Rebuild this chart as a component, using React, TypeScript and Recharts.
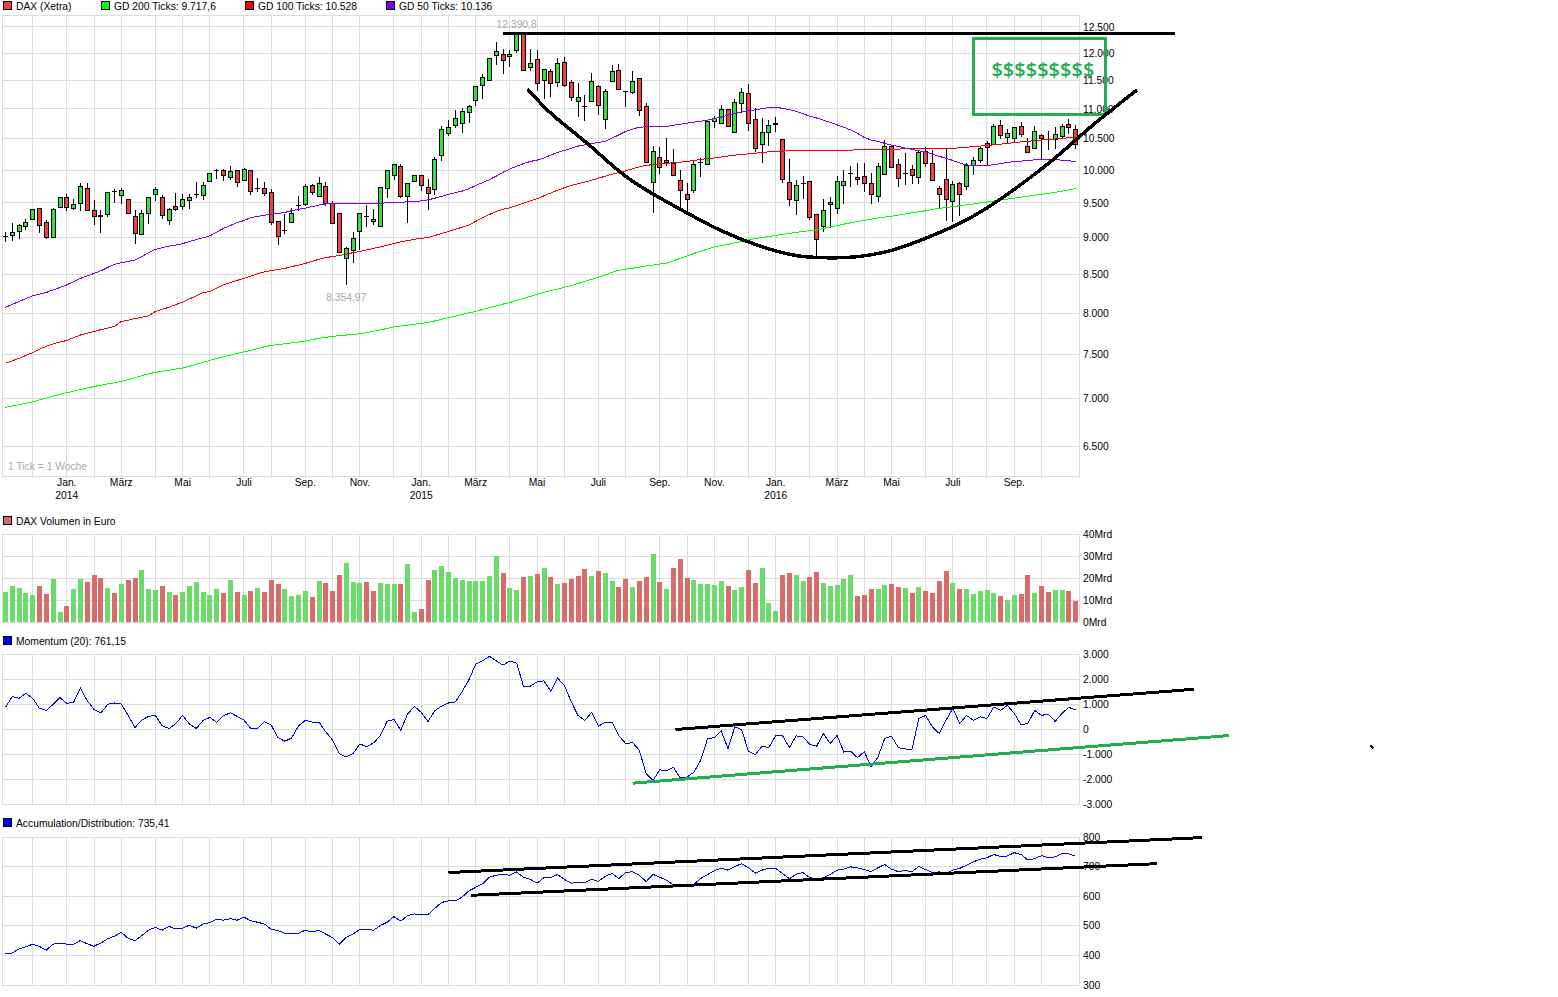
import React from "react";
import {
  ComposedChart, LineChart, Line, Bar, XAxis, YAxis, CartesianGrid,
  ReferenceArea, ReferenceDot,
} from "recharts";

// ---------- weekly DAX candles ----------
const opens = [9011,9033,9090,9163,9264,9423,9220,9000,9437,9586,9423,9495,9721,9394,9310,9336,9668,9614,9553,9307,9047,9351,9630,9586,9249,9452,9452,9540,9625,9614,9828,9993,9995,9888,9995,9843,9995,9714,9716,9660,9235,9098,9220,9459,9481,9767,9599,9752,9495,9351,8713,8818,9085,9300,9230,9163,9721,9919,10058,9599,9828,9919,9736,9706,10234,10592,10720,10760,10944,11149,11412,11500,11957,11982,11933,12056,12379,11736,11890,11500,11669,11465,11834,11465,11131,11042,11131,11395,10827,11482,11687,11305,11289,11537,11044,9812,10202,10154,10106,9843,9630,9691,10120,10090,10793,10760,10994,10609,11096,11272,10827,10410,10606,10746,10489,9812,9540,9795,9828,9336,9163,9481,9423,9767,9947,9888,9904,9797,9599,9934,10378,10090,9947,10011,9888,10298,10106,9721,9858,9523,9797,9752,10074,10154,10426,10410,10726,10525,10508,10709,10378,10346,10558,10487,10489,10541,10743,10659];
const highs = [9076,9206,9196,9269,9413,9428,9254,9423,9591,9626,9558,9807,9807,9543,9389,9670,9711,9721,9563,9399,9389,9591,9736,9616,9423,9647,9626,9626,9812,9812,9954,10021,10021,10064,10000,10027,10000,9873,9817,9706,9240,9341,9423,9599,9782,9782,9888,9812,9525,9356,8873,9076,9351,9471,9408,9745,9990,10096,10096,9802,9924,9924,9858,10202,10704,10804,10983,11012,11067,11400,11620,11914,12207,12070,12061,12390.8,12390,12083,12061,11712,11706,11908,11926,11506,11447,11243,11632,11412,11342,11779,11804,11320,11669,11543,11096,10388,10362,10510,10330,10000,9797,10154,10186,10804,10877,11059,11000,11167,11360,11430,11012,10843,10816,10860,10495,10170,9843,9904,9833,9341,9556,9586,9904,9995,10058,10106,10106,9949,10106,10473,10394,10170,10261,10074,10314,10362,10314,9752,10346,9828,9812,10106,10202,10378,10457,10743,10810,10659,10698,10776,10508,10709,10575,10620,10693,10743,10827,10726];
const lows = [8941,8955,8982,9110,9259,9071,8986,8995,9433,9375,9399,9375,9375,9172,9071,9288,9500,9486,9346,8914,9042,9187,9535,9259,9172,9375,9399,9404,9576,9540,9823,9868,9823,9853,9746,9823,9614,9660,9599,9182,8900,9047,9206,9379,9447,9619,9584,9447,9201,8790,8354.97,8645,8827,9143,9172,9160,9570,9843,9579,9213,9823,9685,9389,9620,10149,10547,10676,10592,10760,11050,11178,11494,11773,11608,11736,12012,11663,11663,11319,11167,11213,11377,11377,11143,10855,10788,11125,10888,10654,11477,11336,11041,11254,10883,10117,9351,9934,10069,9914,9399,9365,9645,9888,10074,10676,10743,10704,10603,10927,10626,10293,10106,10388,10606,9807,9457,9317,9553,9249,8700,9085,9129,9331,9490,9746,9762,9670,9481,9518,9919,10037,9736,9767,9782,9782,10043,9823,9423,9230,9216,9302,9690,9919,10106,10074,10405,10489,10426,10426,10525,10266,10330,10170,10314,10340,10489,10575,10330];
const closes = [9015,9076,9177,9220,9408,9177,9000,9408,9586,9437,9481,9752,9389,9307,9314,9660,9672,9690,9351,9061,9351,9586,9706,9322,9408,9408,9553,9586,9629,9767,9949,9997,9919,9980,9812,10011,9675,9718,9645,9220,9014,9102,9351,9463,9752,9660,9797,9495,9206,8795,8850,8986,9341,9304,9264,9738,9985,10090,9594,9797,9919,9767,9645,10170,10659,10693,10843,10961,11044,11395,11559,11908,12036,11871,11969,12379,11687,11816,11447,11706,11447,11816,11412,11202,11202,11046,11482,11061,11307,11669,11342,11309,11482,10978,10122,10298,10043,10122,9919,9691,9553,10090,10124,10793,10843,10994,10709,11114,11289,10760,10346,10606,10726,10750,9858,9553,9767,9799,9293,8973,9394,9510,9828,9828,9951,9858,9797,9630,10058,10378,10043,9873,9951,9919,10282,10106,9843,9630,9553,9782,9630,10074,10154,10346,10362,10709,10547,10592,10693,10575,10282,10620,10508,10491,10575,10709,10693,10410];

// ---------- moving averages ----------
const gd50 = [8072,8108,8145,8182,8218,8240,8261,8292,8326,8359,8402,8444,8478,8509,8545,8590,8632,8652,8672,8691,8735,8790,8836,8858,8880,8895,8915,8945,8972,8998,9024,9075,9130,9170,9215,9241,9285,9300,9320,9330,9345,9360,9385,9405,9423,9445,9468,9484,9490,9490,9490,9490,9490,9490,9492,9496,9500,9505,9510,9515,9520,9530,9545,9570,9598,9628,9652,9675,9715,9760,9805,9850,9905,9965,10015,10060,10100,10135,10155,10190,10235,10280,10310,10345,10380,10400,10418,10440,10455,10510,10565,10620,10660,10690,10698,10700,10702,10705,10722,10740,10758,10775,10792,10810,10835,10860,10895,10925,10950,10970,10985,11005,11025,11030,11010,10990,10960,10920,10875,10845,10810,10770,10730,10690,10645,10590,10520,10480,10455,10425,10395,10375,10350,10325,10305,10285,10250,10215,10185,10150,10110,10080,10072,10068,10070,10085,10100,10120,10130,10140,10150,10160,10170,10172,10165,10155,10145,10136];
const gd100 = [7398,7425,7455,7488,7520,7561,7595,7625,7645,7665,7698,7730,7752,7774,7795,7815,7835,7895,7912,7930,7948,7964,8020,8048,8072,8105,8138,8178,8218,8258,8273,8315,8359,8388,8418,8444,8475,8505,8532,8548,8562,8577,8600,8622,8645,8672,8700,8722,8738,8752,8770,8790,8808,8828,8850,8868,8892,8918,8941,8958,8975,8990,9000,9028,9058,9085,9118,9145,9178,9230,9285,9330,9372,9405,9428,9462,9495,9528,9562,9605,9648,9690,9728,9760,9790,9812,9842,9872,9905,9935,9960,9988,10020,10050,10072,10085,10095,10105,10115,10122,10135,10150,10165,10180,10190,10205,10220,10235,10245,10255,10266,10278,10288,10295,10300,10303,10303,10303,10303,10303,10304,10304,10305,10310,10315,10320,10325,10328,10330,10331,10332,10333,10334,10334,10335,10335,10335,10335,10336,10345,10352,10362,10372,10380,10390,10400,10412,10425,10435,10448,10458,10468,10478,10488,10496,10505,10516,10528];
const gd200 = [6905,6920,6935,6950,6965,6985,7005,7028,7048,7066,7082,7100,7118,7134,7148,7162,7176,7191,7208,7232,7255,7275,7293,7305,7318,7330,7342,7362,7385,7408,7430,7452,7472,7492,7512,7530,7548,7568,7590,7605,7615,7625,7636,7645,7660,7675,7690,7702,7714,7722,7730,7738,7746,7760,7775,7792,7810,7830,7840,7850,7862,7872,7883,7902,7922,7942,7962,7982,8002,8022,8045,8068,8090,8112,8132,8160,8185,8210,8236,8262,8285,8305,8328,8352,8378,8405,8432,8460,8490,8525,8552,8565,8580,8595,8610,8622,8635,8648,8680,8712,8745,8778,8810,8840,8870,8888,8905,8925,8945,8965,8986,9000,9015,9030,9045,9058,9072,9085,9098,9108,9128,9150,9170,9190,9210,9228,9245,9262,9278,9292,9304,9320,9338,9355,9370,9385,9402,9420,9432,9445,9458,9472,9485,9500,9514,9528,9542,9556,9570,9585,9600,9615,9628,9642,9658,9675,9695,9718];

// ---------- volume (Mrd Euro) ----------
const volume = [13.6,16.4,15.5,13.1,12.2,16.3,12.7,19.5,4.4,7.2,15.1,19.5,18.2,21.4,20,15.5,13.1,17.3,19.1,20,23.7,15.1,14.5,16.3,13.6,12.2,13.6,16.3,18.2,13.6,12.2,15,13.1,19.1,13.6,12.2,14,15.4,13.6,19.1,17.3,15,11.8,12.2,14,11.3,18.6,17.7,14,21.4,26.9,18.2,17.7,18.2,14,17.7,17.3,17.3,17.3,26.4,4.4,5.8,19.1,23.7,25.5,22.7,20,19.1,18.6,18.6,18.6,20.9,30.1,22.3,15.4,14.5,20.5,20.9,21.8,24.7,20.5,17.3,17.7,19.5,20.9,24.1,20.9,23.2,22.3,18.6,15.9,19.5,15.9,18.6,20.5,31,18.2,15.1,24.6,28.7,20,19.1,17.3,17.3,16.8,18.6,16.3,14.5,15.9,23.7,17.7,24.6,8.5,4.9,21.4,22.3,21.4,18.6,20.5,22.7,17.7,16.3,16.8,19.5,21.4,11.8,12.2,15.1,15.1,16.8,17.3,15.9,15.4,13.1,15.9,14,13.1,18.6,23.2,17.7,15.1,15.1,12.7,14,14.5,13.1,11.8,10.2,12.2,12.7,21.4,13.1,16.3,13.6,14.5,14.5,14,9.4];
const volumeDirection = "GGGGGRRGGRGGRRRGRGRRGGGRGRGGGGGGRGRGRGRRRGGGGRGRRRGGGRRGGGRGGRRGGGGGGGGGGRGGRGRGRGRRRRGRGGRRGRRGRGRRRGGGGGRGGRRGGGRRGGRRGGGGGRRRGGRRGRGRRRRGRGGGGGRGGRRGRRGGRR";

// ---------- indicators ----------
const momentum = [866,1295,1228,1429,1228,825,745,986,1255,1027,1067,1631,1134,785,637,986,1040,1000,544,60,356,503,544,127,20,221,544,195,20,342,463,262,530,651,503,356,20,20,289,154,-342,-490,-356,127,342,275,275,-114,-450,-986,-1121,-986,-597,-705,-557,-275,315,382,-47,597,906,664,302,731,919,1040,1080,1496,1966,2597,2731,2905,2731,2556,2718,2637,1711,1711,1885,1926,1510,2033,1751,1094,544,342,664,114,262,262,-275,-584,-544,-852,-1792,-2060,-1631,-1671,-1537,-1953,-1926,-1725,-1255,-396,-342,-74,-785,87,-20,-892,-1027,-691,-745,-262,-262,-745,-275,-315,-610,-691,-181,-584,-262,-919,-892,-1147,-906,-1523,-1121,-382,-289,-745,-798,-812,409,544,87,-181,356,825,221,544,342,490,423,879,745,946,624,168,221,745,544,597,302,624,866,761.15];
const accumulation = [408,408,422,429,438,430,418,438,442,438,438,450,439,431,442,456,465,478,458,450,467,485,495,485,498,489,492,502,492,506,511,522,519,524,519,529,517,512,506,488,484,475,475,475,485,479,485,472,460,438,461,472,488,488,485,501,512,531,516,534,540,537,538,559,579,584,584,597,618,630,642,664,671,673,671,682,664,657,644,663,663,673,657,644,646,646,657,650,667,677,660,680,683,671,649,674,664,654,637,633,634,640,660,673,686,695,688,700,710,696,678,688,695,694,677,659,674,680,663,658,662,673,688,692,699,696,690,683,696,707,691,683,687,683,700,690,680,682,677,688,694,705,716,725,730,741,734,736,747,741,722,727,737,730,733,744,743,735.41];

// ---------- axes ----------
const monthWeeks = [4,9,13,17,22,26,30,35,39,44,48,52,57,61,65,69,74,78,82,87,91,96,100,104,109,113,118,122,126,130,135,139,144,148,152];
const monthLabels: Record<number, string[]> = {
  9: ["Jan.", "2014"], 17: ["März"], 26: ["Mai"], 35: ["Juli"], 44: ["Sep."], 52: ["Nov."],
  61: ["Jan.", "2015"], 69: ["März"], 78: ["Mai"], 87: ["Juli"], 96: ["Sep."], 104: ["Nov."],
  113: ["Jan.", "2016"], 122: ["März"], 130: ["Mai"], 139: ["Juli"], 148: ["Sep."],
};
const priceTicks = [12500,12000,11500,11000,10500,10000,9500,9000,8500,8000,7500,7000,6500];
const priceDomain: [number, number] = [6204, 12736];
const volumeTicks = [0,10,20,30,40];
const momentumTicks = [-3000,-2000,-1000,0,1000,2000,3000];
const adTicks = [300,400,500,600,700,800];

// ---------- hand-drawn annotations (week, level) ----------
const resistanceLine = [{ x: 73, y: 12379 }, { x: 171.6, y: 12379 }];
const cupWeeks = [76.6,80.3,85.3,90.2,95,100,104.8,110.7,115.6,119.1,124.4,130.2,134.9,139.6,144.5,149.9,154.7,159.6,166];
const cupLevels = [11347,10896,10430,9968,9633,9352,9106,8881,8757,8724,8730,8827,8986,9182,9457,9848,10255,10732,11330];
const momentumUpper = [{ x: 98.3, y: -20 }, { x: 174.4, y: 1590 }];
const momentumLower = [{ x: 92, y: -2167 }, { x: 179.5, y: -262 }];
const strayMark = [{ x: 200.2, y: -651 }, { x: 200.7, y: -772 }];
const adUpper = [{ x: 65, y: 680 }, { x: 175.6, y: 798 }];
const adLower = [{ x: 68.3, y: 603 }, { x: 169, y: 710 }];
const targetBox = { x1: 142, x2: 161.4, y1: 12284, y2: 10905 };
const dollars = "$$$$$$$$$";

const rows = opens.map((open, i) => ({
  i, open, high: highs[i], low: lows[i], close: closes[i],
  gd50: gd50[i], gd100: gd100[i], gd200: gd200[i],
  volume: volume[i], up: volumeDirection[i] === "G",
  momentum: momentum[i], accumulation: accumulation[i],
}));
const cup = cupWeeks.map((x, i) => ({ x, y: cupLevels[i] }));

// ---------- layout ----------
const FONT = '"Liberation Sans", Arial, sans-serif';
const FS = 10.3;
const GRID = "#dcdcdc";
const DRAW_GREEN = "#22ad50";
const PLOT_LEFT = 2;
const PLOT_RIGHT = 1079;
const AXIS_W = 41;
const CHART_W = PLOT_RIGHT + AXIS_W;
const WEEK_PX = (PLOT_RIGHT - PLOT_LEFT) / 158;
const PAD = 10;
const overlayDomain: [number, number] = [-0.5, -0.5 + (1558 - PLOT_LEFT) / WEEK_PX];
const xDomain: [number, number] = [-0.5, 157.5];
const gridWeeks = [-0.5, ...monthWeeks, 157.5];

const fmt = (v: number) => v.toLocaleString("de-DE");
const only = (list: number[], f: (v: number) => string) => (v: number) => (list.includes(v) ? f(v) : "");
const tickStyle = { fontSize: FS, fontFamily: FONT, fill: "#000" };

const CandleBody = (p: any) => {
  const up = p.payload.close >= p.payload.open;
  const doji = Math.abs(p.payload.close - p.payload.open) < 6;
  return (
    <rect
      x={p.x + 0.5}
      y={p.y}
      width={p.width - 1}
      height={Math.max(p.height, doji ? 0.5 : 1)}
      fill={doji ? "#000" : up ? "#33e03c" : "#f04040"}
      stroke="#000"
      strokeWidth={1}
    />
  );
};
const VolumeBar = (p: any) => (
  <rect x={p.x} y={p.y} width={p.width} height={p.height} fill={p.payload.up ? "#6bdc6b" : "#d96b6b"} />
);

const MonthTick = (p: any) => {
  const lines = monthLabels[p.payload.value];
  if (!lines) return null;
  return (
    <text x={p.x} textAnchor="middle" fontSize={FS} fontFamily={FONT} fill="#000">
      {lines.map((t, k) => (
        <tspan key={k} x={p.x} y={486 + k * 12.5}>{t}</tspan>
      ))}
    </text>
  );
};

const Legend = ({ x, y, color, text }: { x: number; y: number; color: string; text: string }) => (
  <>
    <div style={{ position: "absolute", left: x, top: y, width: 7, height: 7, background: color, border: "1px solid #000" }} />
    <div style={{ position: "absolute", left: x + 13, top: y - 1, font: `${FS}px/13px ${FONT}`, color: "#000", whiteSpace: "nowrap" }}>{text}</div>
  </>
);

function Panel({ top, bottom, ticks, domain, format, dataKey }: any) {
  return (
    <div style={{ position: "absolute", left: 0, top: top - PAD }}>
      <ComposedChart width={CHART_W} height={bottom - top + 2 * PAD} data={rows}
        margin={{ top: PAD, right: 0, bottom: PAD, left: PLOT_LEFT }}>
        <CartesianGrid stroke={GRID} />
        <XAxis dataKey="i" type="number" domain={xDomain} ticks={gridWeeks} interval={0} hide />
        <YAxis orientation="right" width={AXIS_W} domain={domain} ticks={ticks} interval={0}
          axisLine={false} tickLine={false} tickSize={0} tickMargin={4} tick={tickStyle} tickFormatter={format} />
        {dataKey === "volume" ? (
          <Bar dataKey="volume" barSize={5} isAnimationActive={false} shape={VolumeBar} />
        ) : (
          <Line dataKey={dataKey} stroke="#0000ff" strokeWidth={1} dot={false} isAnimationActive={false} />
        )}
      </ComposedChart>
    </div>
  );
}

function Overlay({ top, bottom, domain, scale, children }: any) {
  return (
    <div style={{ position: "absolute", left: 0, top: top - PAD }}>
      <LineChart width={1558} height={bottom - top + 2 * PAD}
        margin={{ top: PAD, right: 0, bottom: PAD, left: PLOT_LEFT }}>
        <XAxis dataKey="x" type="number" domain={overlayDomain} hide allowDataOverflow />
        <YAxis dataKey="y" type="number" domain={domain} scale={scale} hide />
        {children}
      </LineChart>
    </div>
  );
}

const drawn = (data: any[], stroke: string, width = 3, type: any = "linear", key?: string) => (
  <Line key={key} data={data} dataKey="y" type={type} stroke={stroke} strokeWidth={width} dot={false} isAnimationActive={false} />
);

export default function App() {
  return (
    <div style={{ position: "absolute", left: 0, top: 0, width: 1558, height: 997, overflow: "hidden", background: "#fff" }}>
      <style>{`svg rect, svg line { shape-rendering: crispEdges; } svg path { shape-rendering: crispEdges; } svg { overflow: visible; }`}</style>

      <Legend x={3} y={1} color="#f04040" text="DAX (Xetra)" />
      <Legend x={101} y={1} color="#00ff00" text="GD 200 Ticks: 9.717,6" />
      <Legend x={245} y={1} color="#ff0000" text="GD 100 Ticks: 10.528" />
      <Legend x={386} y={1} color="#7f00ff" text="GD 50 Ticks: 10.136" />
      <Legend x={3} y={516} color="#d96b6b" text="DAX Volumen in Euro" />
      <Legend x={3} y={636} color="#0000ff" text="Momentum (20): 761,15" />
      <Legend x={3} y={818} color="#0000ff" text="Accumulation/Distribution: 735,41" />

      {/* main price panel */}
      <div style={{ position: "absolute", left: 0, top: 0 }}>
        <ComposedChart width={CHART_W} height={510} data={rows}
          margin={{ top: 15, right: 0, bottom: 0, left: PLOT_LEFT }}>
          <CartesianGrid stroke={GRID} />
          <XAxis dataKey="i" type="number" domain={xDomain} ticks={gridWeeks} interval={0} height={34}
            axisLine={false} tickLine={{ stroke: GRID }} tickSize={2} tick={MonthTick} />
          <XAxis xAxisId="wick" dataKey="i" type="number" domain={xDomain} hide />
          <YAxis orientation="right" width={AXIS_W} scale="log" domain={priceDomain}
            ticks={[priceDomain[0], ...priceTicks, priceDomain[1]]} interval={0}
            axisLine={false} tickLine={false} tickSize={0} tickMargin={4} tick={tickStyle}
            tickFormatter={only(priceTicks, fmt)} />
          <Line dataKey="gd200" stroke="#00ff00" strokeWidth={1} dot={false} isAnimationActive={false} />
          <Line dataKey="gd100" stroke="#ff0000" strokeWidth={1} dot={false} isAnimationActive={false} />
          <Line dataKey="gd50" stroke="#7f00ff" strokeWidth={1} dot={false} isAnimationActive={false} />
          <Bar xAxisId="wick" dataKey={(d: any) => [d.low, d.high]} barSize={1} fill="#000" isAnimationActive={false} />
          <Bar dataKey={(d: any) => [Math.min(d.open, d.close), Math.max(d.open, d.close)]} barSize={5} isAnimationActive={false} shape={CandleBody} />
          <ReferenceDot x={75} y={12390.8} r={0} stroke="none" fill="none"
            label={{ value: "12.390,8", position: "top", offset: 5, fontSize: FS, fontFamily: FONT, fill: "#a8a8a8" }} />
          <ReferenceDot x={50} y={8354.97} r={0} stroke="none" fill="none"
            label={{ value: "8.354,97", position: "bottom", offset: 8, fontSize: FS, fontFamily: FONT, fill: "#a8a8a8" }} />
        </ComposedChart>
      </div>
      <div style={{ position: "absolute", left: 8, top: 460, font: `${FS}px/13px ${FONT}`, color: "#a8a8a8", whiteSpace: "nowrap" }}>1 Tick = 1 Woche</div>

      <Panel top={534} bottom={622} ticks={volumeTicks} domain={[0, 40]} dataKey="volume" format={(v: number) => `${v}Mrd`} />
      <Panel top={654} bottom={804} ticks={momentumTicks} domain={[-3000, 3000]} dataKey="momentum" format={fmt} />
      <Panel top={837} bottom={985} ticks={adTicks} domain={[300, 800]} dataKey="accumulation" format={fmt} />

      {/* hand-drawn annotations */}
      <Overlay top={15} bottom={476} domain={priceDomain} scale="log">
        {drawn(resistanceLine, "#000", 3, "linear", "res")}
        {drawn(cup, "#000", 3.5, "natural", "cup")}
        <ReferenceArea x1={targetBox.x1} x2={targetBox.x2} y1={targetBox.y1} y2={targetBox.y2}
          fill="none" stroke={DRAW_GREEN} strokeWidth={3} ifOverflow="visible" />
        <ReferenceDot x={152.2} y={11693} r={0} stroke="none" fill="none" ifOverflow="visible"
          label={{ value: dollars, position: "center", fontSize: 20, fontWeight: 600, fontFamily: '"Open Sans", sans-serif', fill: DRAW_GREEN }} />
      </Overlay>
      <Overlay top={654} bottom={804} domain={[-3000, 3000]} scale="linear">
        {drawn(momentumUpper, "#000", 3, "linear", "mu")}
        {drawn(momentumLower, DRAW_GREEN, 3, "linear", "ml")}
        {drawn(strayMark, "#000", 2.5, "linear", "sm")}
      </Overlay>
      <Overlay top={837} bottom={985} domain={[300, 800]} scale="linear">
        {drawn(adUpper, "#000", 3, "linear", "au")}
        {drawn(adLower, "#000", 3, "linear", "al")}
      </Overlay>
    </div>
  );
}
